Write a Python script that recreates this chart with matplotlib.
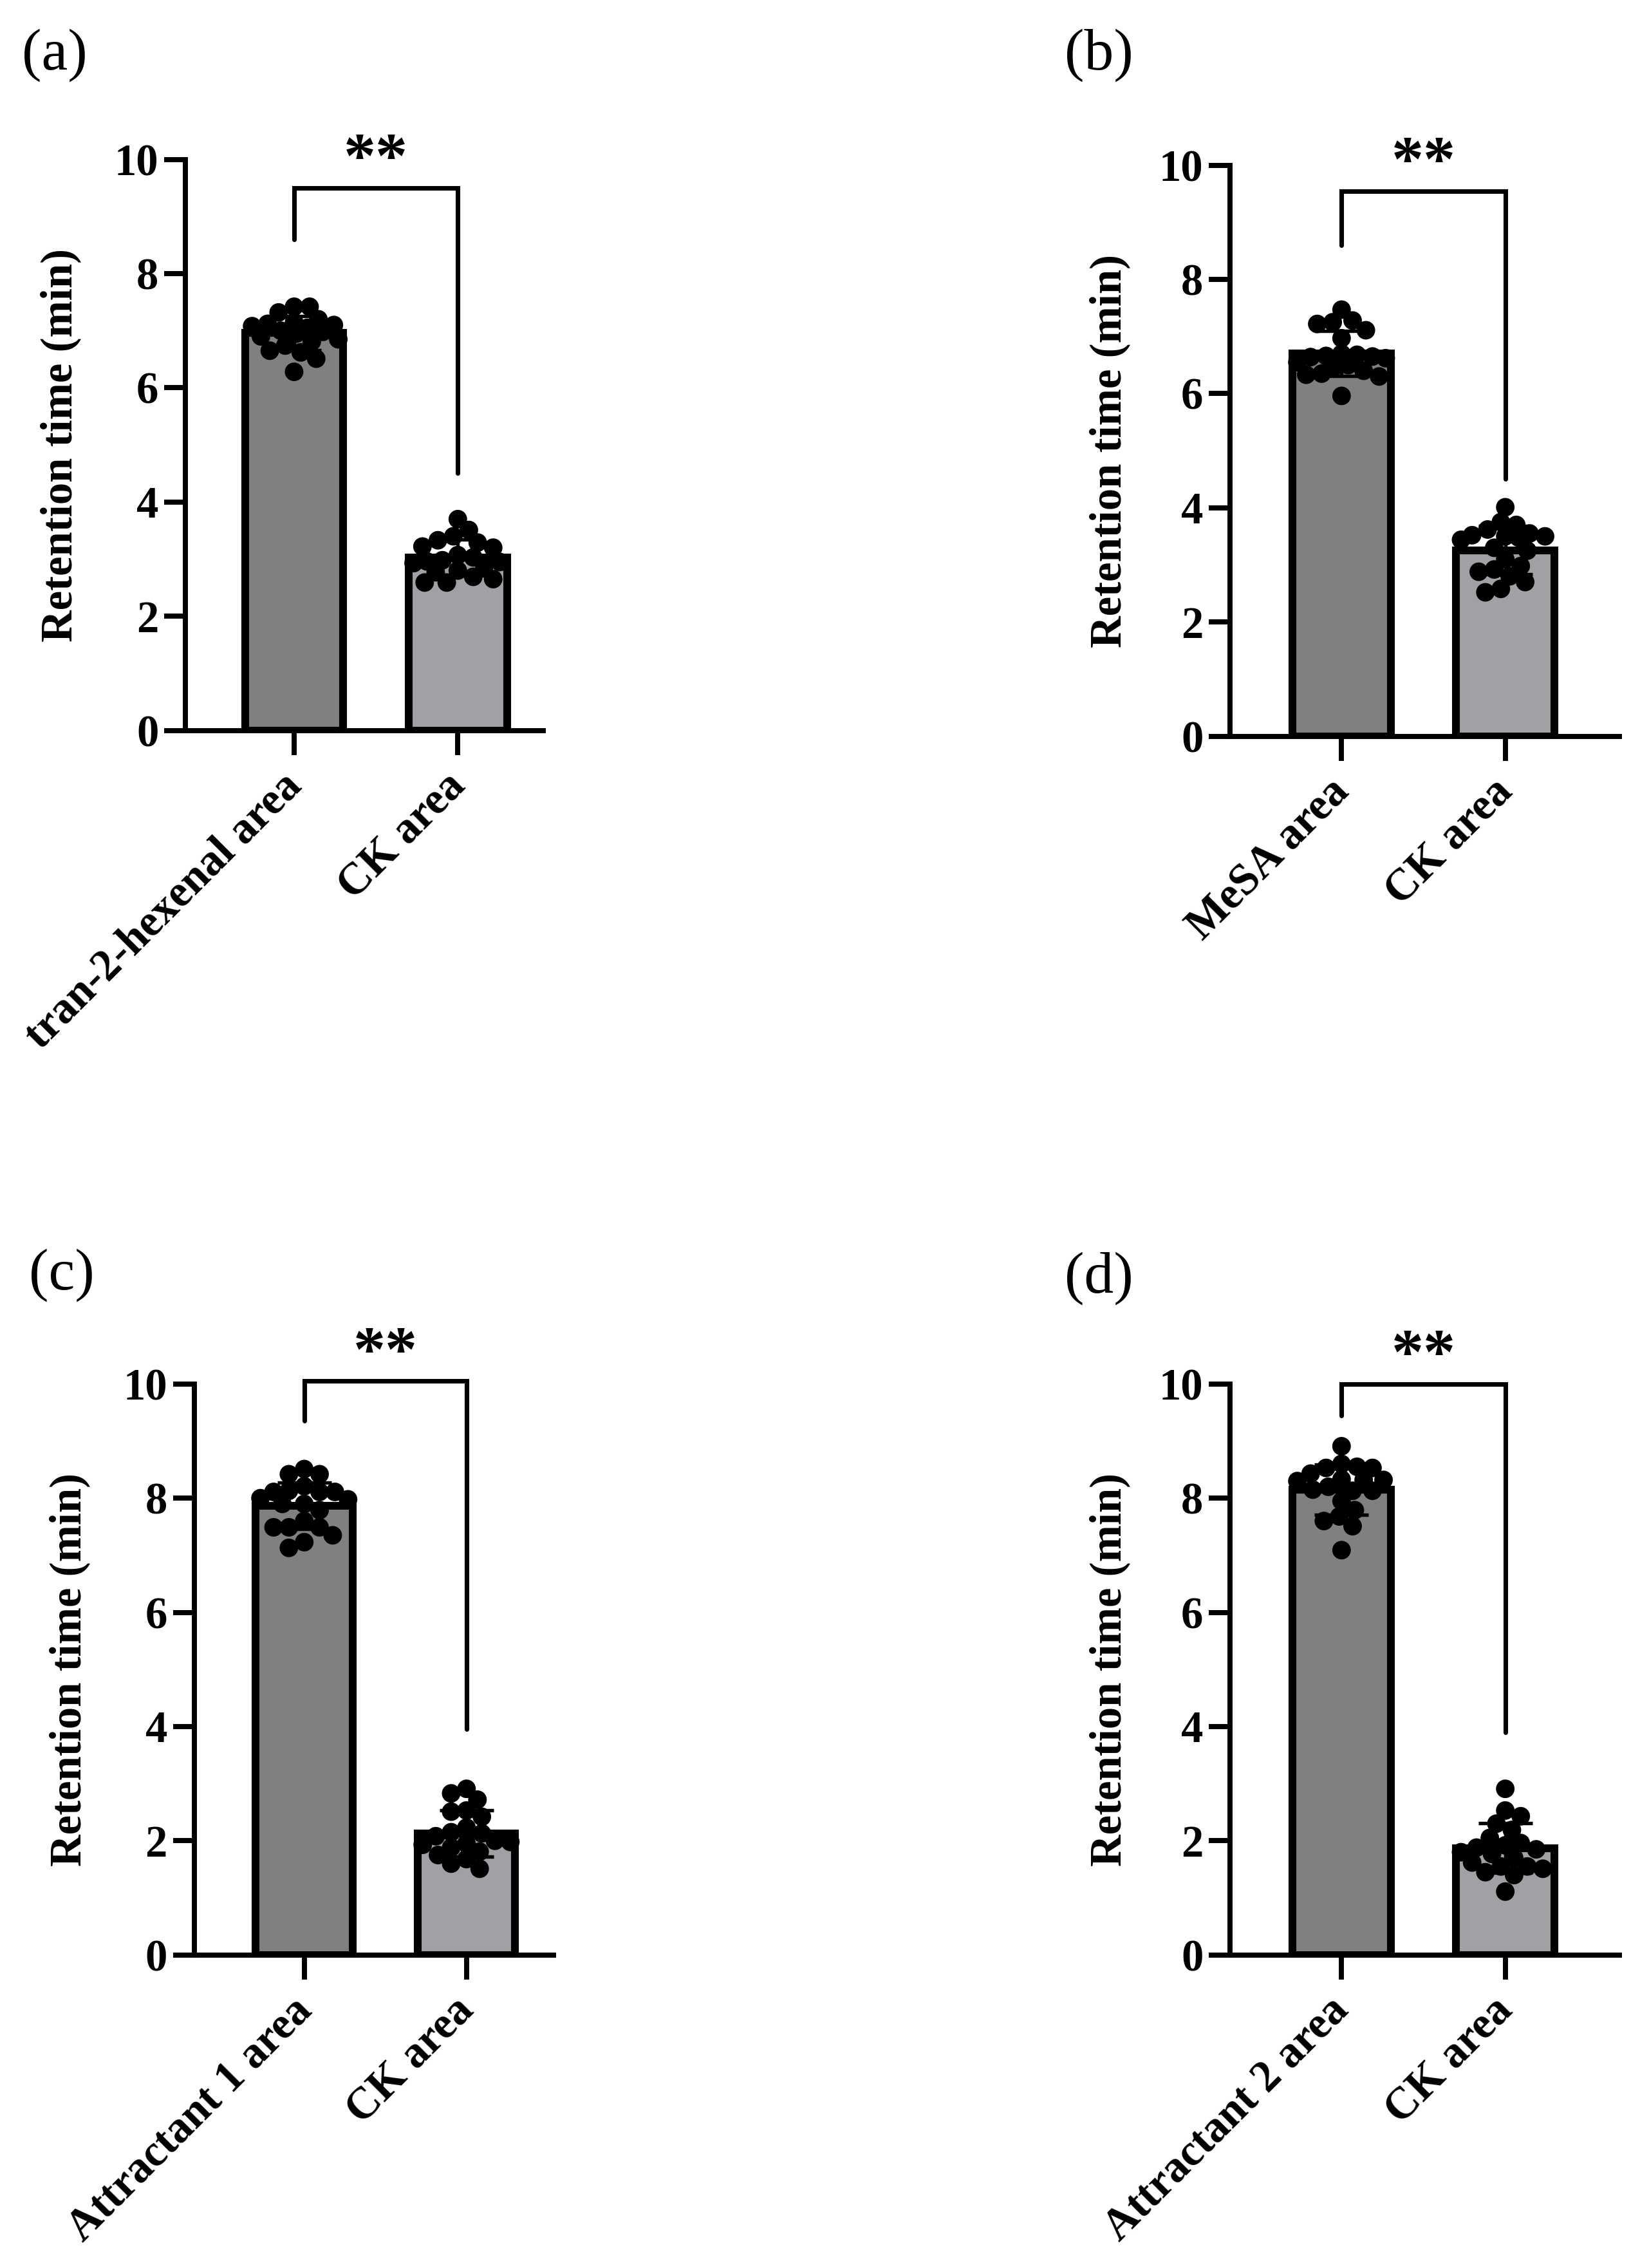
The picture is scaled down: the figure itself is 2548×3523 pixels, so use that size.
import numpy as np
import matplotlib
matplotlib.use("Agg")
import matplotlib.pyplot as plt
from matplotlib.transforms import ScaledTranslation

plt.rcParams['font.family'] = ['Liberation Serif', 'DejaVu Serif']

# ---------------- data ----------------
panel_labels = ['(a)', '(b)', '(c)', '(d)']
categories_a = ['tran-2-hexenal area', 'CK area']
categories_b = ['MeSA area', 'CK area']
categories_c = ['Attractant 1 area', 'CK area']
categories_d = ['Attractant 2 area', 'CK area']

treat_a = [7.42, 7.42, 7.32, 7.20, 7.15, 7.12, 7.10, 7.08, 7.05, 7.00,
           6.98, 6.95, 6.90, 6.85, 6.81, 6.74, 6.65, 6.62, 6.51, 6.28]
ck_a = [3.70, 3.51, 3.40, 3.33, 3.29, 3.22, 3.20, 3.07, 3.03, 2.98,
        2.96, 2.95, 2.93, 2.88, 2.80, 2.77, 2.69, 2.65, 2.59, 2.59]

treat_b = [7.47, 7.28, 7.25, 7.22, 7.11, 6.97, 6.70, 6.68, 6.66, 6.65,
           6.64, 6.62, 6.55, 6.50, 6.48, 6.40, 6.35, 6.33, 6.30, 5.96]
ck_b = [4.01, 3.75, 3.70, 3.62, 3.55, 3.52, 3.50, 3.50, 3.48, 3.44,
        3.30, 3.25, 3.10, 2.98, 2.92, 2.88, 2.80, 2.70, 2.58, 2.52]

treat_c = [8.51, 8.42, 8.42, 8.21, 8.13, 8.11, 8.11, 8.11, 8.00, 7.98,
           7.90, 7.90, 7.79, 7.60, 7.49, 7.49, 7.49, 7.35, 7.23, 7.13]
ck_c = [2.91, 2.83, 2.72, 2.53, 2.51, 2.42, 2.23, 2.15, 2.13, 2.08,
        2.00, 1.98, 1.95, 1.93, 1.88, 1.81, 1.75, 1.68, 1.60, 1.51]

treat_d = [8.91, 8.60, 8.55, 8.53, 8.53, 8.43, 8.33, 8.32, 8.32, 8.30,
           8.20, 8.15, 8.13, 8.13, 7.95, 7.79, 7.68, 7.60, 7.51, 7.09]
ck_d = [2.91, 2.53, 2.43, 2.30, 2.19, 2.05, 1.96, 1.92, 1.88, 1.85,
        1.80, 1.77, 1.70, 1.62, 1.55, 1.55, 1.51, 1.45, 1.40, 1.11]

ylabel = 'Retention time (min)'
yticks = [0, 2, 4, 6, 8, 10]
sig_label = '**'
bracket_top = [9.50, 9.55, 10.05, 10.00]
bracket_left_end = [8.60, 8.60, 9.35, 9.45]
bracket_right_end = [4.50, 4.50, 3.95, 3.90]

# ---------------- styling / layout ----------------
W, H = 2548, 3523
DW, DH = 1132.0, 1565.0   # reference layout units
bar_colors = ['#808080', '#a1a1a5']
FS = 16.5

panels = [
    dict(cats=categories_a, groups=[treat_a, ck_a], left=128, right=375, top=110, bottom=504,
         xc=(203, 316), lab=(15, 38), ylab_x=42),
    dict(cats=categories_b, groups=[treat_b, ck_b], left=849, right=1118, top=114, bottom=508,
         xc=(926, 1039), lab=(735, 38), ylab_x=766),
    dict(cats=categories_c, groups=[treat_c, ck_c], left=134, right=382, top=955, bottom=1349,
         xc=(210, 322), lab=(20, 880), ylab_x=48),
    dict(cats=categories_d, groups=[treat_d, ck_d], left=849, right=1118, top=955, bottom=1349,
         xc=(926, 1039), lab=(735, 882), ylab_x=766),
]

fig = plt.figure(figsize=(W / 300, H / 300), dpi=300)


def swarm_offsets(ax, values, dot_pt, half_width):
    figw, figh = ax.figure.get_size_inches()
    bb = ax.get_position()
    xl, yl = ax.get_xlim(), ax.get_ylim()
    sx = bb.width * figw * 72 / (xl[1] - xl[0])
    sy = bb.height * figh * 72 / (yl[1] - yl[0])
    maxoff = half_width * sx
    cands = np.linspace(-maxoff, maxoff, 41)
    cands = cands[np.argsort(np.abs(cands), kind='stable')]
    placed = []
    offs = []
    for v in values:
        y = v * sy
        best, best_d = 0.0, -1.0
        for c in cands:
            if placed:
                P = np.array(placed)
                dmin = np.min(np.hypot(P[:, 0] - c, P[:, 1] - y))
            else:
                dmin = np.inf
            if dmin >= dot_pt * 0.8:
                best = c
                break
            if dmin > best_d:
                best_d, best = dmin, c
        placed.append((best, y))
        offs.append(best / sx)
    return np.array(offs)


for i, p in enumerate(panels):
    unit = (p['xc'][1] - p['xc'][0])
    x0 = (p['left'] - p['xc'][0]) / unit
    x1 = (p['right'] - p['xc'][0]) / unit
    rect = [p['left'] / DW, 1 - p['bottom'] / DH,
            (p['right'] - p['left']) / DW, (p['bottom'] - p['top']) / DH]
    ax = fig.add_axes(rect)
    ax.set_xlim(x0, x1)
    ax.set_ylim(0, 10)

    xs = np.arange(len(p['cats']))
    means = [np.mean(g) for g in p['groups']]
    sds = [np.std(g, ddof=1) for g in p['groups']]

    ax.bar(xs, means, width=0.6, color=bar_colors, edgecolor='black',
           linewidth=2.9, zorder=2)
    ax.errorbar(xs, means, yerr=sds, fmt='none', ecolor='black',
                elinewidth=1.3, capsize=10, capthick=1.3, zorder=3)
    for xi, g in zip(xs, p['groups']):
        offs = swarm_offsets(ax, g, 7.0, 0.27)
        ax.scatter(xi + offs, g, s=48, color='black', edgecolors='none',
                   zorder=4, clip_on=False)

    # significance bracket
    ax.plot([0, 0, 1, 1],
            [bracket_left_end[i], bracket_top[i], bracket_top[i], bracket_right_end[i]],
            color='black', lw=1.7, clip_on=False, solid_capstyle='round',
            solid_joinstyle='miter', zorder=5)
    ax.text(0.5, bracket_top[i] + 0.2, sig_label, ha='center', va='baseline',
            fontsize=24, fontweight='bold', clip_on=False)

    # axes styling
    for s in ['top', 'right']:
        ax.spines[s].set_visible(False)
    for s in ['left', 'bottom']:
        ax.spines[s].set_linewidth(1.9)
        ax.spines[s].set_color('black')
    ax.set_yticks(yticks)
    ax.set_yticklabels([str(t) for t in yticks], fontsize=FS, fontweight='bold')
    ax.tick_params(axis='y', direction='out', length=8, width=1.9, pad=2)
    ax.set_xticks(xs)
    ax.set_xticklabels(p['cats'], fontsize=FS, fontweight='bold', rotation=45,
                       ha='right', va='top', rotation_mode='anchor')
    ax.tick_params(axis='x', direction='out', length=9, width=1.9, pad=6)
    shift = ScaledTranslation(-5 / 72, 2 / 72, fig.dpi_scale_trans)
    for lbl in ax.get_xticklabels():
        lbl.set_transform(lbl.get_transform() + shift)

    ax.set_ylabel(ylabel, fontsize=FS, fontweight='bold', va='center')
    ax.yaxis.set_label_coords((p['ylab_x'] - p['left']) / (p['right'] - p['left']), 0.5)

    fig.text(p['lab'][0] / DW, 1 - p['lab'][1] / DH, panel_labels[i],
             ha='left', va='center', fontsize=22)

fig.savefig('out.png', dpi=300, facecolor='white')
